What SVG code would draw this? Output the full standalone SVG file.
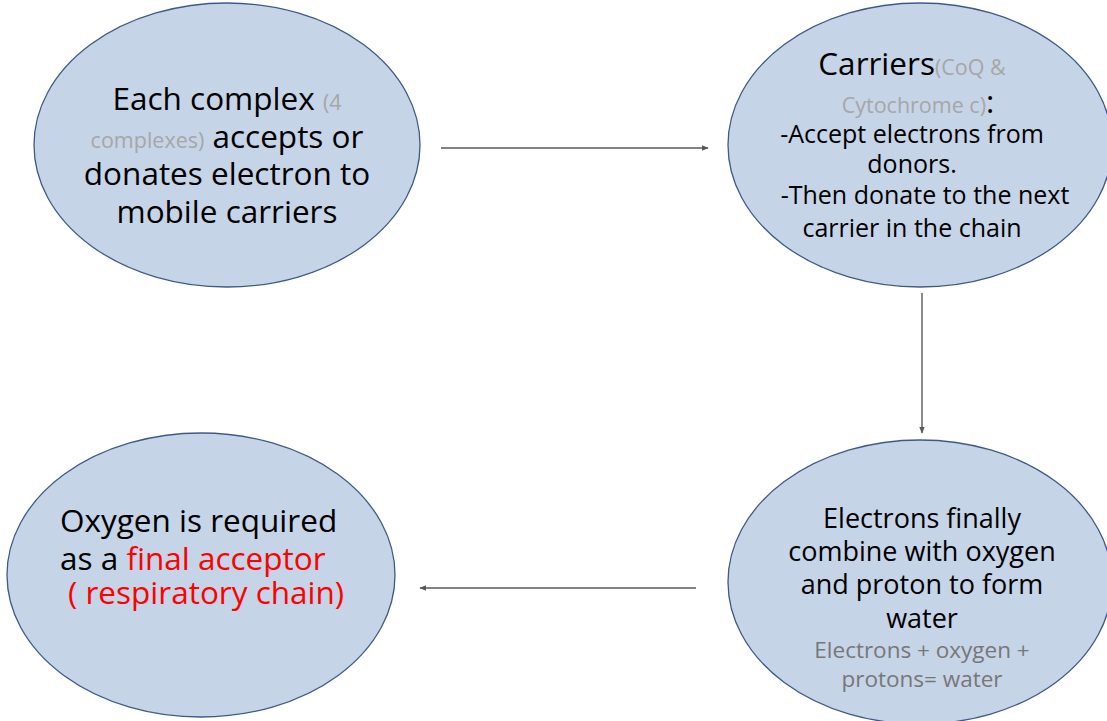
<svg xmlns="http://www.w3.org/2000/svg" width="1107" height="721" viewBox="0 0 1107 721">
<defs>
<style>
.node{fill:#c6d4e7;stroke:#3f5a87;stroke-width:1.3}
text{font-family:"Open Sans","Noto Sans","DejaVu Sans",sans-serif;fill:#000}
.big{font-size:31.5px}
.mid{font-size:25px}
.br{font-size:27px}
.gray{fill:#a6a6a6;font-size:21.5px}
.dgray{fill:#777777;font-size:22.5px}
.red{fill:#ff0000}
.conn{stroke:#595959;stroke-width:1.4;fill:none;marker-end:url(#ah)}
</style>
<marker id="ah" viewBox="0 0 10 10" refX="9" refY="5" markerWidth="7" markerHeight="7" orient="auto" markerUnits="userSpaceOnUse">
<path d="M0,1 L10,5 L0,9 Z" fill="#595959"/>
</marker>
</defs>
<rect width="1107" height="721" fill="#ffffff"/>
<g id="connectors">
<line class="conn" x1="441" y1="148" x2="708" y2="148"/>
<line class="conn" x1="922" y1="293" x2="922" y2="433"/>
<line class="conn" x1="696" y1="588" x2="420" y2="588"/>
</g>
<g id="node-complex">
<ellipse class="node" cx="227" cy="145" rx="193" ry="142"/>
<text class="big" text-anchor="middle" x="227" y="110">Each complex <tspan class="gray">(4</tspan></text>
<text class="big" text-anchor="middle" x="227" y="148"><tspan class="gray">complexes)</tspan> accepts or</text>
<text class="big" text-anchor="middle" x="227" y="185">donates electron to</text>
<text class="big" text-anchor="middle" x="227" y="223">mobile carriers</text>
</g>
<g id="node-carriers">
<ellipse class="node" cx="920" cy="145" rx="192" ry="142"/>
<text class="big" text-anchor="middle" x="912" y="75">Carriers<tspan class="gray">(CoQ &amp;</tspan></text>
<text class="big" text-anchor="middle" x="918" y="113"><tspan class="gray">Cytochrome c)</tspan>:</text>
<text class="mid" text-anchor="middle" x="912" y="143">-Accept electrons from</text>
<text class="mid" text-anchor="middle" x="912" y="173">donors.</text>
<text class="mid" text-anchor="middle" x="925" y="204">-Then donate to the next</text>
<text class="mid" text-anchor="middle" x="912" y="237">carrier in the chain</text>
</g>
<g id="node-water">
<ellipse class="node" cx="920" cy="582" rx="192" ry="142"/>
<text class="br" text-anchor="middle" x="922" y="528">Electrons finally</text>
<text class="br" text-anchor="middle" x="922" y="561">combine with oxygen</text>
<text class="br" text-anchor="middle" x="922" y="594">and proton to form</text>
<text class="br" text-anchor="middle" x="922" y="628">water</text>
<text class="dgray" text-anchor="middle" x="922" y="658">Electrons + oxygen +</text>
<text class="dgray" text-anchor="middle" x="922" y="687">protons= water</text>
</g>
<g id="node-oxygen">
<ellipse class="node" cx="201" cy="575" rx="194" ry="142"/>
<text class="big" x="60" y="532">Oxygen is required</text>
<text class="big" x="60" y="570">as a <tspan class="red">final acceptor</tspan></text>
<text class="big red" x="68" y="604">( respiratory chain)</text>
</g>
</svg>
